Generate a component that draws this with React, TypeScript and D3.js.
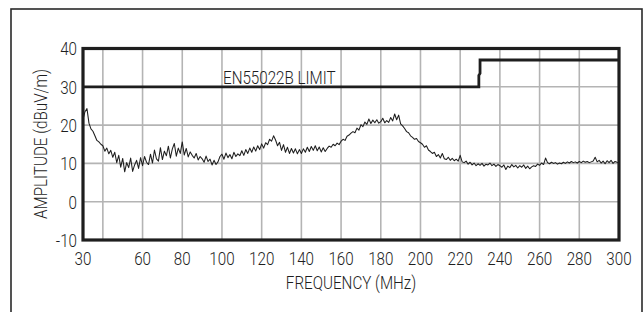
import React from "react";
import * as d3 from "d3";

const amplitude: number[] = [
  21.5, 23.5, 24.3, 20.5, 19.0, 18.4, 17.2, 16.0, 15.6, 15.0,
  14.6, 13.2, 14.0, 12.5, 13.4, 11.6, 12.9, 10.2, 12.1, 9.0,
  11.3, 7.8, 10.2, 8.9, 11.4, 7.9, 9.6, 10.8, 8.7, 11.5,
  9.4, 11.8, 10.3, 9.7, 12.4, 10.1, 13.5, 11.2, 10.6, 14.1,
  11.0, 13.2, 12.0, 14.5, 11.4, 13.8, 15.2, 11.9, 14.0, 12.6,
  15.6, 12.2, 13.9, 11.7, 13.0, 12.1, 11.4, 12.6, 10.9, 11.8,
  11.2, 10.3, 11.9, 10.5, 11.1, 9.6, 10.8, 9.7, 10.4, 11.8,
  12.4, 11.1, 12.7, 11.5, 12.3, 11.2, 12.9, 11.8, 12.5, 12.0,
  13.3, 12.1, 13.6, 12.6, 14.0, 12.9, 14.3, 13.2, 14.6, 13.6,
  15.1, 14.0, 15.4, 14.9, 16.3, 15.8, 17.2, 16.1, 14.6, 15.5,
  13.4, 14.9, 12.9, 14.2, 12.6, 13.9, 12.7, 13.8, 12.5, 13.6,
  12.6, 13.8, 12.9, 14.2, 13.1, 14.4, 13.4, 14.6, 13.3, 14.3,
  13.0, 14.1, 13.1, 13.9, 14.5, 14.2, 15.0, 14.6, 15.3, 14.9,
  15.8, 16.3, 16.0, 17.1, 17.4, 17.9, 18.3, 18.0, 19.2, 18.7,
  20.1, 19.6, 20.8, 20.2, 21.6, 20.4, 21.3, 20.6, 21.4, 20.5,
  20.9, 21.8, 20.6, 21.2, 20.7, 22.0, 21.1, 22.9, 21.4, 22.6,
  20.3, 19.8, 19.1, 18.3, 18.0, 17.2, 16.8, 16.3, 16.5, 15.7,
  15.4, 15.0, 14.2, 14.6, 13.5, 13.1, 12.6, 12.9, 11.8, 12.3,
  11.4, 12.6, 11.2, 11.0, 11.6, 10.8, 11.3, 10.7, 11.1, 10.6,
  12.1, 10.4, 10.2, 10.6, 9.8, 10.3, 9.6, 10.1, 9.4, 9.9,
  9.5, 10.0, 9.3, 9.8, 9.6, 10.1, 9.4, 9.8, 9.2, 9.7,
  9.4, 9.0, 9.6, 8.4, 9.3, 8.9, 9.7, 9.1, 9.5, 8.8,
  9.4, 9.0, 9.6, 8.7, 9.3, 8.6, 9.1, 9.4, 9.2, 9.8,
  9.5, 10.1, 9.7, 11.4, 10.2, 9.9, 10.3, 10.0, 10.2, 9.8,
  10.1, 9.9, 10.3, 10.0, 10.4, 10.1, 10.5, 10.2, 10.4, 10.1,
  10.5, 10.2, 10.6, 10.3, 10.5, 10.2, 10.4, 10.6, 11.6, 10.4,
  10.8, 10.1, 10.6, 9.9, 10.7, 10.2, 10.8, 10.0, 10.5, 10.3,
  10.2,
];
const frequencies: number[] = d3.range(30, 30 + amplitude.length);

const limitFreq: number[] = [30, 229.4, 229.4, 230, 230, 300];
const limitAmp: number[] = [30, 30, 33, 33.5, 37, 37];

const xTickLabels: number[] = [30, 60, 80, 100, 120, 140, 160, 180, 200, 220, 240, 260, 280, 300];
const xGrid: number[] = [40, 60, 80, 100, 120, 140, 160, 180, 200, 220, 240, 260, 280];
const yTicks: number[] = [-10, 0, 10, 20, 30, 40];
const yGrid: number[] = [0, 10, 20, 30];

const FONT = "Roboto, 'Liberation Sans Narrow', sans-serif";
const INK = "#1e1e1e";
const SX = 0.8;

function T(props: {
  x: number;
  y: number;
  anchor?: "start" | "middle" | "end";
  rotate?: number;
  children: React.ReactNode;
}) {
  const { x, y, anchor = "start", rotate = 0, children } = props;
  return (
    <text
      transform={`translate(${x},${y}) rotate(${rotate}) scale(${SX},1)`}
      textAnchor={anchor}
    >
      {children}
    </text>
  );
}

export default function App() {
  const x = d3.scaleLinear().domain([30, 300]).range([83, 619]);
  const y = d3.scaleLinear().domain([-10, 40]).range([240, 48.5]);

  const trace = d3
    .line<number>()
    .x((_, i) => x(frequencies[i]))
    .y((d) => y(d))(amplitude);

  const limit = d3
    .line<number>()
    .x((_, i) => x(limitFreq[i]))
    .y((d) => y(d))(limitAmp);

  return (
    <svg
      width={644}
      height={312}
      style={{ position: "absolute", left: 0, top: 0, background: "#fff" }}
    >
      <rect x={11} y={9} width={631} height={330} fill="none" stroke="#2a2a2a" strokeWidth={1.6} />
      <g stroke="#b4b4b4" strokeWidth={1.6}>
        {xGrid.map((f) => (
          <line key={"gx" + f} x1={x(f)} x2={x(f)} y1={y(40)} y2={y(-10)} />
        ))}
        {yGrid.map((v) => (
          <line key={"gy" + v} x1={x(30)} x2={x(300)} y1={y(v)} y2={y(v)} />
        ))}
      </g>
      <path d={trace ?? ""} fill="none" stroke={INK} strokeWidth={1.05} strokeLinejoin="round" />
      <path d={limit ?? ""} fill="none" stroke={INK} strokeWidth={2.8} strokeLinejoin="miter" />
      <rect
        x={x(30)}
        y={y(40)}
        width={x(300) - x(30)}
        height={y(-10) - y(40)}
        fill="none"
        stroke={INK}
        strokeWidth={3.2}
      />
      <g fontFamily={FONT} fontWeight={300} fontSize={19} fill={INK}>
        {yTicks.map((v) => (
          <T key={"yt" + v} x={77} y={y(v) + 6.8} anchor="end">
            {v}
          </T>
        ))}
        {xTickLabels.map((f) => (
          <T key={"xt" + f} x={x(f)} y={265} anchor="middle">
            {f}
          </T>
        ))}
        <T x={351} y={289} anchor="middle">
          FREQUENCY (MHz)
        </T>
        <T x={46.5} y={144} anchor="middle" rotate={-90}>
          AMPLITUDE (dBuV/m)
        </T>
        <T x={223} y={83.5}>EN55022B LIMIT</T>
      </g>
    </svg>
  );
}
